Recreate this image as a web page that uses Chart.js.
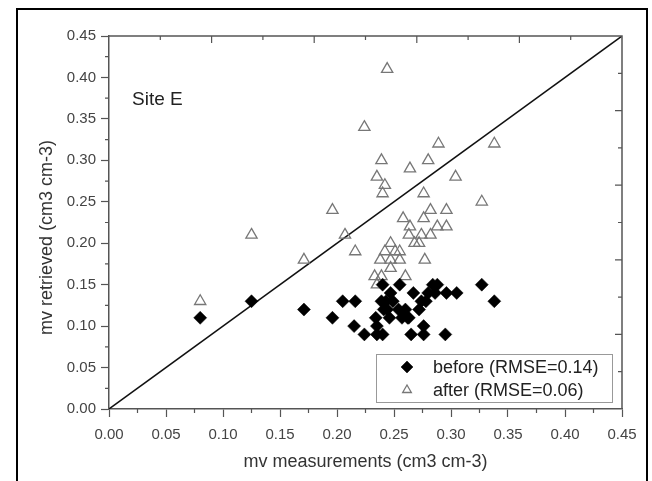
<!DOCTYPE html>
<html>
<head>
<meta charset="utf-8">
<script src="https://cdn.jsdelivr.net/npm/chart.js@4.4.1/dist/chart.umd.min.js"></script>
<style>
  html, body { margin: 0; padding: 0; background: #fff; overflow: hidden; }
  #wrap { position: relative; width: 652px; height: 481px; }
  #frame { position: absolute; left: 16px; top: 8px; width: 632px; height: 500px; border: 2px solid #000; box-sizing: border-box; }
  #chart { position: absolute; left: 0; top: 0; }
</style>
</head>
<body>
<div id="wrap">
  <div id="frame"></div>
  <canvas id="chart" width="652" height="481"></canvas>
</div>
<script>
// mv measured vs retrieved, before the correction (filled diamonds)
const beforeX = [0.080, 0.125, 0.171, 0.196, 0.205, 0.216, 0.215, 0.224, 0.235, 0.240,
  0.234, 0.235, 0.240, 0.239, 0.243, 0.241, 0.246, 0.247, 0.249, 0.255,
  0.254, 0.257, 0.260, 0.263, 0.267, 0.265, 0.272, 0.274, 0.276, 0.276,
  0.278, 0.280, 0.284, 0.288, 0.286, 0.296, 0.305, 0.295, 0.327, 0.338,
  0.244, 0.262];
const beforeY = [0.11, 0.13, 0.12, 0.11, 0.13, 0.13, 0.10, 0.09, 0.09, 0.09,
  0.11, 0.10, 0.15, 0.13, 0.13, 0.12, 0.11, 0.14, 0.13, 0.15,
  0.12, 0.11, 0.12, 0.11, 0.14, 0.09, 0.12, 0.13, 0.10, 0.09,
  0.13, 0.14, 0.15, 0.15, 0.14, 0.14, 0.14, 0.09, 0.15, 0.13,
  0.12, 0.11];

// after the correction (hollow triangles)
const afterX = [0.080, 0.125, 0.171, 0.196, 0.207, 0.216, 0.224, 0.244, 0.239, 0.280,
  0.264, 0.304, 0.235, 0.242, 0.240, 0.276, 0.327, 0.289, 0.338, 0.282,
  0.296, 0.258, 0.276, 0.264, 0.288, 0.296, 0.263, 0.274, 0.282, 0.268,
  0.272, 0.247, 0.242, 0.251, 0.255, 0.238, 0.247, 0.255, 0.277, 0.247,
  0.233, 0.239, 0.260, 0.235];
const afterY = [0.13, 0.21, 0.18, 0.24, 0.21, 0.19, 0.34, 0.41, 0.30, 0.30,
  0.29, 0.28, 0.28, 0.27, 0.26, 0.26, 0.25, 0.32, 0.32, 0.24,
  0.24, 0.23, 0.23, 0.22, 0.22, 0.22, 0.21, 0.21, 0.21, 0.20,
  0.20, 0.20, 0.19, 0.19, 0.19, 0.18, 0.18, 0.18, 0.18, 0.17,
  0.16, 0.16, 0.16, 0.15];

// 1:1 line
const lineX = [0, 0.45];
const lineY = [0, 0.45];

// tick values / labels (same for both axes)
const axisTicks = [0, 0.05, 0.10, 0.15, 0.20, 0.25, 0.30, 0.35, 0.40, 0.45];
const axisLabels = ["0.00", "0.05", "0.10", "0.15", "0.20", "0.25", "0.30", "0.35", "0.40", "0.45"];

const legendLabels = ["before (RMSE=0.14)", "after (RMSE=0.06)"];
const siteLabel = "Site E";
const xTitle = "mv measurements (cm3 cm-3)";
const yTitle = "mv retrieved (cm3 cm-3)";

const FONT = "Arial, 'Liberation Sans', sans-serif";
const AXIS_COLOR = "#555";

function toPoints(xs, ys) {
  return xs.map((x, i) => ({ x: x, y: ys[i] }));
}

// ve khung tren/phai, tick phu, tieu de truc y, chu thich va nhan "Site E"
const decorPlugin = {
  id: "decor",
  afterDraw(chart) {
    const ctx = chart.ctx;
    const a = chart.chartArea;
    const sx = chart.scales.x;
    const sy = chart.scales.y;
    ctx.save();
    ctx.strokeStyle = AXIS_COLOR;
    ctx.lineWidth = 1.5;
    ctx.beginPath();
    ctx.moveTo(a.left, a.top);
    ctx.lineTo(a.right, a.top);
    ctx.lineTo(a.right, a.bottom);
    ctx.stroke();

    ctx.lineWidth = 1.2;
    ctx.beginPath();
    // tick phu duoi / trai (huong ra ngoai)
    for (let v = 0.025; v < 0.45; v += 0.05) {
      const px = sx.getPixelForValue(v);
      ctx.moveTo(px, a.bottom);
      ctx.lineTo(px, a.bottom + 4);
      const py = sy.getPixelForValue(v);
      ctx.moveTo(a.left, py);
      ctx.lineTo(a.left - 4, py);
    }
    // tick tren / phai (huong vao trong), moi 0.045
    for (let k = 1; k < 10; k++) {
      const v = k * 0.045;
      const len = k % 2 === 0 ? 7 : 4;
      const px = sx.getPixelForValue(v);
      ctx.moveTo(px, a.top);
      ctx.lineTo(px, a.top + len);
      const py = sy.getPixelForValue(v);
      ctx.moveTo(a.right, py);
      ctx.lineTo(a.right - len, py);
    }
    ctx.stroke();

    // tieu de truc y
    ctx.save();
    ctx.translate(47, (a.top + a.bottom) / 2 + 15);
    ctx.rotate(-Math.PI / 2);
    ctx.fillStyle = "#333";
    ctx.font = "18px " + FONT;
    ctx.textAlign = "center";
    ctx.textBaseline = "middle";
    ctx.fillText(yTitle, 0, 0);
    ctx.restore();

    // Site E
    ctx.fillStyle = "#222";
    ctx.font = "19px " + FONT;
    ctx.textAlign = "left";
    ctx.textBaseline = "middle";
    ctx.fillText(siteLabel, a.left + 23, a.top + 64);

    // khung chu thich
    const bx = a.right - 246, by = a.bottom - 55, bw = 236, bh = 48;
    ctx.fillStyle = "#fff";
    ctx.fillRect(bx, by, bw, bh);
    ctx.strokeStyle = "#999";
    ctx.lineWidth = 1;
    ctx.strokeRect(bx + 0.5, by + 0.5, bw, bh);

    const ds = chart.data.datasets;
    const rows = [by + 13, by + 36];
    [0, 1].forEach((i) => {
      const d = ds[i];
      ctx.fillStyle = d.backgroundColor;
      ctx.strokeStyle = d.borderColor;
      ctx.lineWidth = d.borderWidth;
      Chart.helpers.drawPoint(ctx, { pointStyle: d.pointStyle, radius: i === 0 ? 6 : 5, rotation: 0, borderWidth: d.borderWidth }, bx + 31, rows[i]);
      ctx.fillStyle = "#222";
      ctx.font = "18px " + FONT;
      ctx.textBaseline = "middle";
      ctx.fillText(legendLabels[i], bx + 57, rows[i] + 1);
    });
    ctx.restore();
  }
};

function axisOptions(titleText, isX) {
  return {
    type: "linear",
    min: 0,
    max: 0.45,
    afterBuildTicks: (s) => { s.ticks = axisTicks.map((v) => ({ value: v })); },
    afterFit: (s) => {
      if (isX) s.height = 72;
      else s.width = 109;
    },
    ticks: {
      color: "#444",
      font: { family: FONT, size: 15 },
      padding: isX ? 9 : 5,
      callback: (v, i) => axisLabels[i]
    },
    grid: {
      drawOnChartArea: false,
      drawTicks: true,
      tickLength: 8,
      tickColor: AXIS_COLOR,
      tickWidth: 1.2
    },
    border: { display: true, color: AXIS_COLOR, width: 1.5 },
    title: {
      display: isX,
      text: titleText,
      color: "#333",
      font: { family: FONT, size: 18 },
      padding: { top: 0, bottom: 8 }
    }
  };
}

const chart = new Chart(document.getElementById("chart").getContext("2d"), {
  type: "scatter",
  data: {
    datasets: [
      {
        label: legendLabels[0],
        data: toPoints(beforeX, beforeY),
        pointStyle: "rectRot",
        pointRadius: 6.5,
        backgroundColor: "#000",
        borderColor: "#000",
        borderWidth: 0.5,
        order: 1
      },
      {
        label: legendLabels[1],
        data: toPoints(afterX, afterY),
        pointStyle: "triangle",
        pointRadius: 6.5,
        backgroundColor: "rgba(255,255,255,0)",
        borderColor: "#777",
        borderWidth: 1.3,
        order: 2
      },
      {
        label: "1:1",
        type: "line",
        data: toPoints(lineX, lineY),
        borderColor: "#111",
        borderWidth: 1.5,
        pointRadius: 0,
        fill: false,
        order: 3
      }
    ]
  },
  options: {
    responsive: false,
    animation: false,
    devicePixelRatio: 1,
    layout: { padding: { left: 0, top: 36, right: 30, bottom: 0 } },
    plugins: {
      legend: { display: false },
      tooltip: { enabled: false }
    },
    scales: {
      x: axisOptions(xTitle, true),
      y: axisOptions(yTitle, false)
    }
  },
  plugins: [decorPlugin]
});
</script>
</body>
</html>
